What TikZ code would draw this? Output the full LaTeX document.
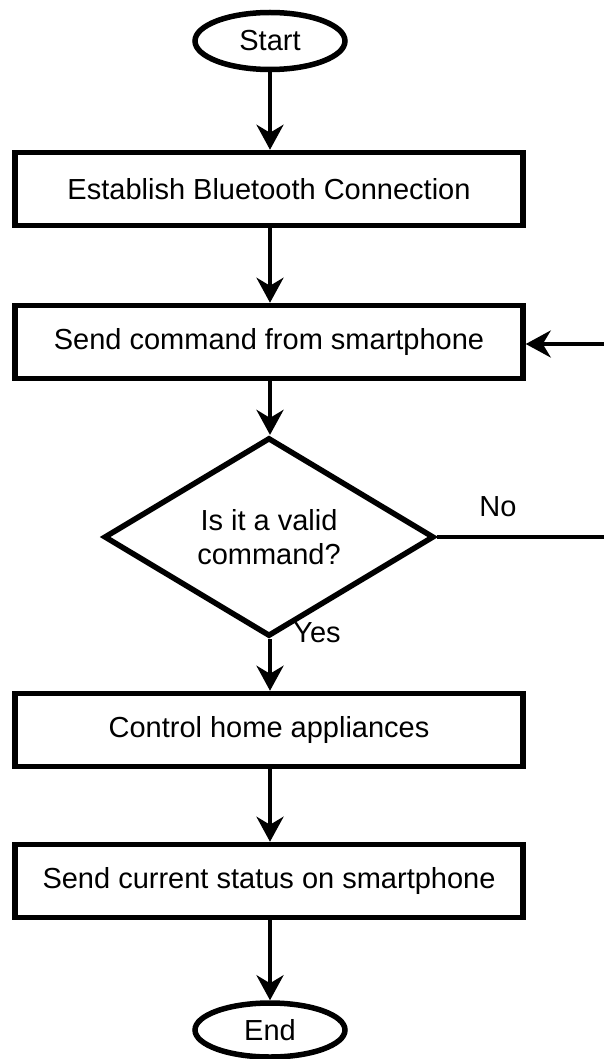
\documentclass[tikz,border=0pt]{standalone}
\usepackage{fontspec}
\setmainfont{Liberation Sans}
\usetikzlibrary{shapes.geometric,arrows.meta}
\begin{document}
\begin{tikzpicture}[x=1pt,y=-1pt,
  font=\fontsize{29}{34}\selectfont,
  procbox/.style={draw,line width=5.5pt,minimum width=508pt,minimum height=73pt,inner sep=0pt},
  term/.style={draw,ellipse,line width=5.5pt,minimum width=150pt,minimum height=57pt,inner sep=0pt},
  decbox/.style={draw,diamond,line width=5.5pt,minimum width=330pt,minimum height=150pt,inner sep=0pt,align=center},
  flow/.style={line width=3.8pt,-{Stealth[length=25pt,width=27pt,inset=8pt]}},
  plain/.style={line width=3.8pt},
  lbl/.style={inner sep=0pt}]
\useasboundingbox (0,0) rectangle (603,1059);
\node[term] (start) at (270,41) {Start};
\node[procbox] (bt) at (269,189) {Establish Bluetooth Connection};
\node[procbox] (send) at (269,342) {Send command from smartphone};
\node[decbox] (dec) at (269,537) {Is it a valid\\command?};
\node[procbox] (ctrl) at (269,730) {Control home appliances};
\node[procbox] (stat) at (269,881) {Send current status on smartphone};
\node[term,minimum height=54pt] (end) at (270,1030) {End};
\coordinate (loopB) at (640,537);
\coordinate (loopT) at (640,344);
\node[lbl] (no) at (498,507) {No};
\node[lbl] (yes) at (317,633) {Yes};
\draw[flow] (start.south) -- (start.south |- bt.north);
\draw[flow] (bt.south -| start.south) -- (start.south |- send.north);
\draw[flow] (send.south -| start.south) -- (start.south |- dec.north);
\draw[flow] (dec.south -| start.south) -- (start.south |- ctrl.north);
\draw[flow] (ctrl.south -| start.south) -- (start.south |- stat.north);
\draw[flow] (stat.south -| start.south) -- (end.north);
\draw[plain] (dec.east) -- (loopB) -- (loopT);
\draw[flow] (loopT) -- (send.east |- loopT);
\end{tikzpicture}
\end{document}
